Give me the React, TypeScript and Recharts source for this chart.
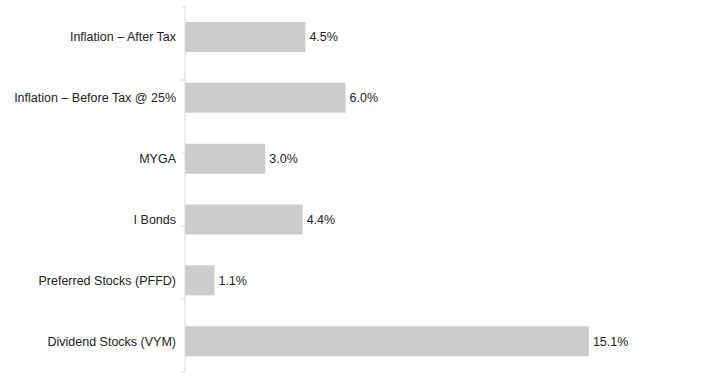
import React from 'react';
import { BarChart, Bar, XAxis, YAxis, LabelList } from 'recharts';

const categories = [
  'Inflation – After Tax',
  'Inflation – Before Tax @ 25%',
  'MYGA',
  'I Bonds',
  'Preferred Stocks (PFFD)',
  'Dividend Stocks (VYM)',
];
const values = [4.5, 6.0, 3.0, 4.4, 1.1, 15.1];
const boundaryTicks = [0, 1, 2, 3, 4, 5, 6];

const data = categories.map((name, i) => ({ name, value: values[i] }));

const FONT = 'Liberation Sans, Arial, sans-serif';

const CatTick = (props: any) => {
  const { x, y, payload } = props;
  return (
    <text x={x} y={y} dy={4} textAnchor="end" fill="#222" fontSize={12.5} fontFamily={FONT}>
      {payload.value}
    </text>
  );
};

export default function App() {
  return (
    <div style={{ position: 'absolute', left: 0, top: 0, width: 720, height: 380, background: '#fff' }}>
      <BarChart
        width={720}
        height={380}
        data={data}
        layout="vertical"
        margin={{ top: 7, right: 107, bottom: 8, left: 0 }}
        barCategoryGap={0}
      >
        <XAxis type="number" domain={[0, 16]} hide />
        <YAxis
          yAxisId="a-grid"
          type="number"
          domain={[0, 6]}
          ticks={boundaryTicks}
          width={1}
          tickFormatter={() => ''}
          tickSize={4}
          axisLine={{ stroke: '#d9d9d9' }}
          tickLine={{ stroke: '#d9d9d9' }}
          allowDataOverflow
        />
        <YAxis
          yAxisId="b-cat"
          type="category"
          dataKey="name"
          width={184}
          axisLine={false}
          tickLine={false}
          tickSize={0}
          tickMargin={8}
          interval={0}
          tick={<CatTick />}
        />
        <Bar yAxisId="b-cat" dataKey="value" fill="#cccccc" barSize={30} isAnimationActive={false}>
          <LabelList
            dataKey="value"
            position="right"
            offset={4}
            formatter={(v: number) => `${v.toFixed(1)}%`}
            style={{ fill: '#222', fontSize: 12.5, fontFamily: FONT }}
          />
        </Bar>
      </BarChart>
    </div>
  );
}
